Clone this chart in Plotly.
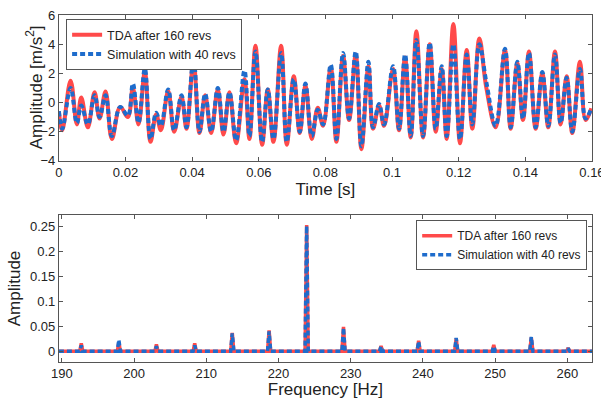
import plotly.graph_objects as go

# ---- Time-domain data (extrema) ----
time_ms = [0.0, 1.0, 3.5, 5.4, 6.7, 8.7, 10.7, 12.2, 14.0, 15.9, 18.4, 20.7, 22.2, 23.9,
           25.8, 27.5, 29.2, 30.6, 32.8, 34.6, 36.8, 38.3, 40.4, 42.2, 43.9, 45.7, 47.7,
           49.4, 51.2, 53.2, 55.7, 57.2, 59.0, 61.0, 62.7, 64.4, 66.7, 68.4, 70.5, 72.3,
           74.0, 75.9, 77.7, 79.3, 81.6, 83.3, 85.3, 87.1, 89.1, 90.8, 92.9, 94.3, 96.1,
           97.6, 100.3, 102.1, 103.9, 105.6, 107.3, 109.3, 111.3, 113.1, 114.9, 116.4,
           118.4, 120.4, 122.4, 124.1, 126.2, 128.3, 131.1, 133.9, 135.6, 137.6, 139.3,
           141.1, 143.1, 145.1, 146.9, 148.9, 150.6, 152.4, 154.1, 156.4, 158.1, 159.8]
tda_160 = [-0.6, -1.9, 1.5, -1.5, 0.35, -1.7, 0.7, -1.1, 0.75, -2.5, -0.3, -1.0, 1.0, -1.5,
           2.1, -2.7, -0.8, -1.9, 0.8, -2.0, 0.4, -1.8, 2.8, -2.1, 0.5, -2.1, 0.9,
           -2.2, 0.7, -2.8, 1.6, -2.5, 3.9, -2.9, 0.9, -2.7, 3.9, -2.9, 1.8, -2.1,
           1.2, -2.5, -0.35, -1.6, 2.4, -2.7, 3.2, -1.2, 3.3, -3.2, 2.5, -1.8, -0.2,
           -1.6, 2.3, -1.9, 3.1, -2.4, 4.9, -2.4, 4.0, -2.0, 2.3, -2.5,
           5.4, -2.8, 3.6, -1.8, 4.4, 1.0, -1.7, 3.6, -1.8, 2.7, -1.2,
           3.5, -1.8, 2.0, -1.7, 3.5, -1.5, 1.8, -2.1, 2.8, -1.2, -0.4]
sim_40 = [-0.6, -1.8, 1.0, -1.4, -0.2, -1.5, 0.5, -1.0, 0.5, -2.3, -0.3, -0.9, 1.3, -1.4,
          2.35, -2.5, -0.7, -1.6, 0.9, -1.9, 0.5, -1.7, 3.0, -2.0, 0.6, -2.0, 1.0,
          -2.0, 0.7, -2.6, 2.2, -2.3, 3.5, -2.7, 0.9, -2.5, 3.4, -2.7, 1.6, -2.0,
          1.3, -2.3, -0.5, -1.5, 2.6, -2.5, 3.4, -1.1, 3.5, -3.0, 2.8, -1.7, -0.1,
          -1.5, 2.5, -1.8, 3.3, -2.3, 4.3, -2.3, 4.1, -1.8, 2.5, -2.3,
          4.0, -2.5, 3.3, -1.5, 4.0, 1.4, -1.6, 3.7, -1.7, 2.8, -1.1,
          3.4, -1.7, 2.1, -1.6, 3.3, -1.4, 1.7, -2.0, 2.3, -1.1, -0.4]
time_s = [t / 1000.0 for t in time_ms]

# ---- Spectrum data ----
peak_freq = [192.7, 197.9, 203.1, 208.4, 213.6, 218.7, 223.9, 229.0, 234.2, 239.4,
             244.6, 249.8, 255.0, 260.1]
tda_peak = [0.016, 0.018, 0.014, 0.016, 0.037, 0.042, 0.252, 0.049, 0.011, 0.021,
            0.026, 0.013, 0.028, 0.007]
sim_peak = [0.012, 0.023, 0.010, 0.012, 0.036, 0.040, 0.250, 0.047, 0.010, 0.020,
            0.027, 0.010, 0.029, 0.006]
f_lo, f_hi = 189.6, 263.4
half_w = 0.22


def spectrum_line(freqs, amps):
    xs, ys = [f_lo], [0.0]
    for f, a in zip(freqs, amps):
        xs += [f - half_w, f, f + half_w]
        ys += [0.0, a, 0.0]
    xs.append(f_hi)
    ys.append(0.0)
    return xs, ys


RED = "#ff4a4a"
BLUE = "#1e6ccc"
FONT = "Liberation Sans, Arial, sans-serif"
DASH = "5px,3px"

fig = go.Figure()
fig.add_trace(go.Scatter(x=time_s, y=tda_160, mode="lines", name="TDA after 160 revs",
                         line=dict(color=RED, width=4, shape="spline", smoothing=1.1),
                         xaxis="x", yaxis="y", legend="legend"))
fig.add_trace(go.Scatter(x=time_s, y=sim_40, mode="lines", name="Simulation with 40 revs",
                         line=dict(color=BLUE, width=4, dash=DASH, shape="spline", smoothing=1.1),
                         xaxis="x", yaxis="y", legend="legend"))

fx, fy = spectrum_line(peak_freq, tda_peak)
sx, sy = spectrum_line(peak_freq, sim_peak)
fig.add_trace(go.Scatter(x=fx, y=fy, mode="lines", name="TDA after 160 revs",
                         line=dict(color=RED, width=3.5),
                         xaxis="x2", yaxis="y2", legend="legend2"))
fig.add_trace(go.Scatter(x=sx, y=sy, mode="lines", name="Simulation with 40 revs",
                         line=dict(color=BLUE, width=3.5, dash=DASH),
                         xaxis="x2", yaxis="y2", legend="legend2"))

axis_common = dict(showline=True, linecolor="#555555", linewidth=1, mirror="allticks",
                   ticks="inside", ticklen=4, tickcolor="#555555", showgrid=False,
                   zeroline=False, automargin=False,
                   tickfont=dict(family=FONT, size=13, color="#222222"))

fig.update_layout(
    width=601, height=399,
    margin=dict(l=0, r=0, t=0, b=0),
    paper_bgcolor="white", plot_bgcolor="white",
    font=dict(family=FONT, color="#222222"),
    xaxis=dict(domain=[0.098, 0.985], range=[0, 0.16001], tickvals=[0, 0.02, 0.04, 0.06, 0.08, 0.1, 0.12, 0.14, 0.16],
               ticktext=["0", "0.02", "0.04", "0.06", "0.08", "0.1", "0.12", "0.14", "0.16"],
               ticklabeloverflow="allow",
               anchor="y", title=dict(text="Time [s]", font=dict(size=17, family=FONT), standoff=1),
               **axis_common),
    yaxis=dict(domain=[0.597, 0.962], range=[-4, 6], tickvals=[-4, -2, 0, 2, 4, 6], anchor="x",
               **axis_common),
    xaxis2=dict(domain=[0.098, 0.985], range=[f_lo, f_hi], tickvals=[190, 200, 210, 220, 230, 240, 250, 260],
                anchor="y2", title=dict(text="Frequency [Hz]", font=dict(size=17, family=FONT), standoff=1),
                **axis_common),
    yaxis2=dict(domain=[0.093, 0.461], range=[-0.021, 0.272], tickvals=[0, 0.05, 0.1, 0.15, 0.2, 0.25],
                ticktext=["0", "0.05", "0.1", "0.15", "0.2", "0.25"], anchor="x2",
                title=dict(text="Amplitude", font=dict(size=17, family=FONT), standoff=5),
                **axis_common),
    legend=dict(x=0.11, y=0.952, xanchor="left", yanchor="top", bgcolor="white",
                bordercolor="#555555", borderwidth=1, font=dict(size=12.5, family=FONT),
                tracegroupgap=0, itemwidth=30),
    legend2=dict(x=0.977, y=0.448, xanchor="right", yanchor="top", bgcolor="white",
                 bordercolor="#555555", borderwidth=1, font=dict(size=12, family=FONT),
                 tracegroupgap=0, itemwidth=30),
    showlegend=True,
    annotations=[dict(text="Amplitude [m/s<sup>2</sup>]", textangle=-90, showarrow=False,
                      xref="paper", yref="paper", x=0.058, y=0.781, xanchor="center", yanchor="middle",
                      font=dict(size=17, family=FONT, color="#222222"))],
)

fig.write_html("out.html")
